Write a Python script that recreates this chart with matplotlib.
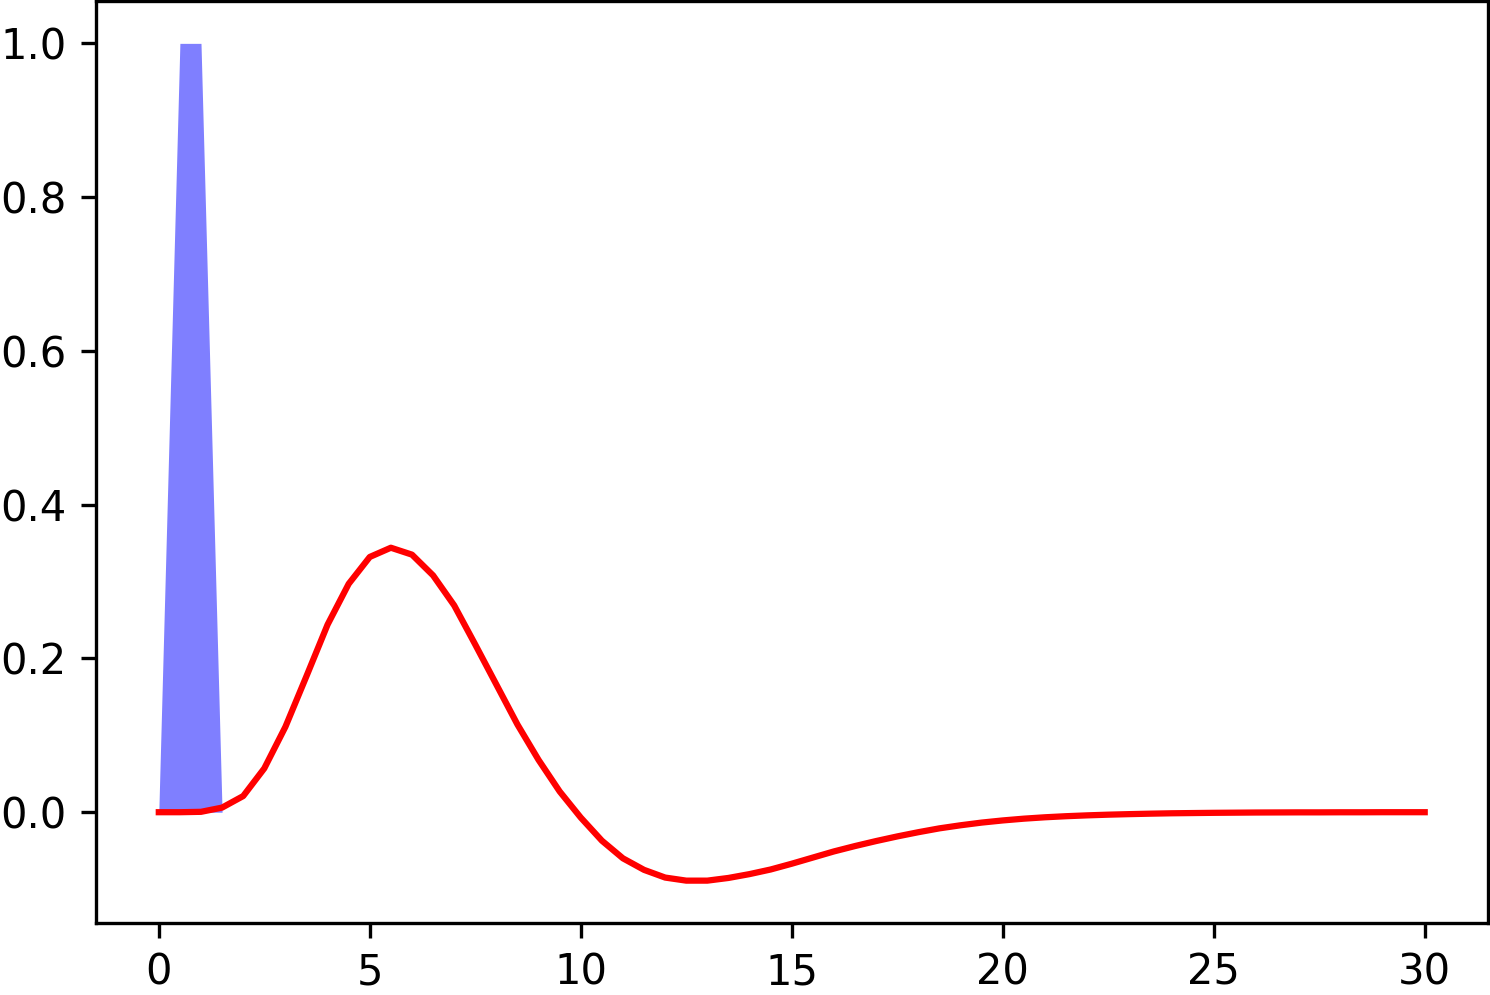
import numpy as np
import matplotlib
matplotlib.use("Agg")
import matplotlib.pyplot as plt

# time axis, 0.5 step
t = np.arange(0, 30.5, 0.5)

# input pulse (filled in blue)
pulse = np.zeros_like(t)
pulse[1:3] = 1.0

# response
response = [
    0.0, 0.0, 0.0005, 0.006, 0.021, 0.057, 0.111, 0.177, 0.244, 0.297,
    0.332, 0.344, 0.335, 0.308, 0.269, 0.218, 0.166, 0.114, 0.068, 0.027,
    -0.007, -0.037, -0.060, -0.075, -0.085, -0.089, -0.089, -0.0855, -0.0805, -0.0745,
    -0.067, -0.059, -0.051, -0.044, -0.0375, -0.0315, -0.026, -0.021, -0.017, -0.0135,
    -0.0107, -0.0084, -0.0066, -0.0052, -0.0041, -0.0032, -0.0025, -0.0019, -0.0014, -0.0011,
    -0.0008, -0.0006, -0.0004, -0.0003, -0.0002, -0.0002, -0.0001, -0.0001, 0.0, 0.0,
    0.0,
]

fig = plt.figure(figsize=(1490 / 300, 995 / 300), dpi=300)
ax = fig.add_axes([95.5 / 1490, 72.5 / 995, (1488 - 95.5) / 1490, (922.5 - 1.5) / 995])

ax.fill_between(t, pulse, color="blue", alpha=0.5, linewidth=0)
ax.plot(t, response, color="red")

fig.savefig("out.png", dpi=300)
